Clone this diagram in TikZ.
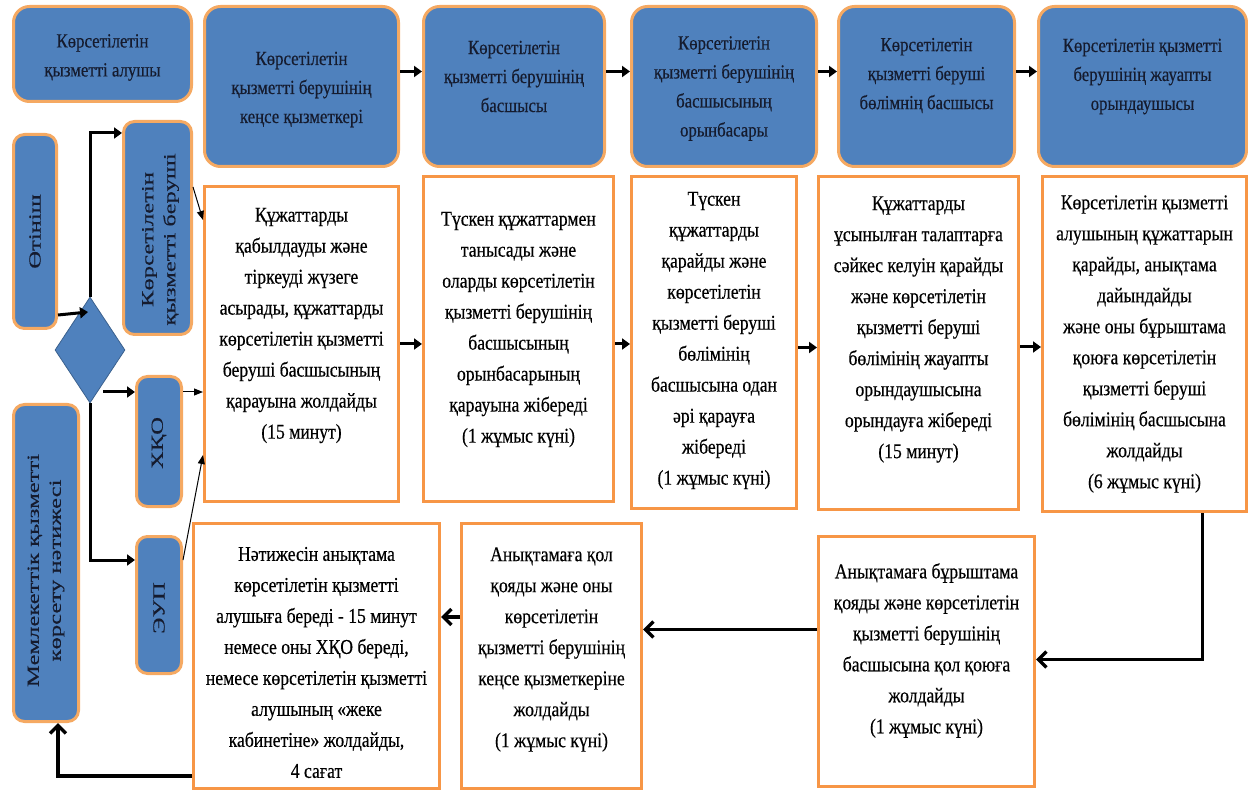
\documentclass[tikz,border=0pt]{standalone}
\usepackage{fontspec}
\setmainfont{Liberation Serif}[FakeStretch=0.84,FakeBold=0.35]
\newfontfamily\widefont{Liberation Serif}[FakeStretch=1.45,FakeBold=0.2]
\usetikzlibrary{arrows.meta,shapes.geometric,calc}
\definecolor{bluef}{HTML}{4F81BD}
\definecolor{orb}{HTML}{F79646}
\definecolor{orl}{HTML}{F5A962}
\definecolor{navy}{HTML}{151B2E}
\begin{document}
\begin{tikzpicture}[x=1pt,y=-1pt,
  bbox/.style={draw=orl, line width=3pt, fill=bluef, rounded corners=16pt, inner sep=0pt, anchor=north west},
  vbox/.style={bbox, rounded corners=11pt},
  pbox/.style={draw=orb, line width=3pt, fill=white, inner sep=0pt, anchor=north west},
  btxt/.style={align=center, text=navy, font=\fontsize{20}{29}\selectfont, inner sep=0pt},
  ptxt/.style={align=center, text=black, font=\fontsize{21}{31}\selectfont, inner sep=0pt},
  vtxt/.style={align=center, text=navy, rotate=90, font=\widefont\fontsize{17}{22}\selectfont, inner sep=0pt},
  tri/.style={line width=3pt, -{Triangle[length=8pt,width=11pt]}},
  thinarr/.style={line width=1pt, -{Triangle[length=9pt,width=7pt]}},
  big/.style={line width=3.5pt, -{Straight Barb[length=8pt,width=16pt]}}
]
\useasboundingbox (0,0) rectangle (1248,791);

% top row boxes
\node[bbox, minimum width=178pt, minimum height=95pt] (a) at (12,5) {};
\node[bbox, minimum width=194pt, minimum height=160pt] (b1) at (203,5) {};
\node[bbox, minimum width=181pt, minimum height=160pt] (b2) at (422,5) {};
\node[bbox, minimum width=185pt, minimum height=160pt] (b3) at (630,5) {};
\node[bbox, minimum width=176pt, minimum height=160pt] (b4) at (837,5) {};
\node[bbox, minimum width=208pt, minimum height=160pt] (b5) at (1037,5) {};

\node[btxt] (at) at ($(a.center)+(0,3.5)$) {Көрсетілетін\\қызметті алушы};
\node[btxt] (b1t) at ($(b1.center)+(0,3)$) {Көрсетілетін\\қызметті берушінің\\кеңсе қызметкері};
\node[btxt] (b2t) at ($(b2.center)+(0,-10)$) {Көрсетілетін\\қызметті берушінің\\басшысы};
\node[btxt] (b3t) at ($(b3.center)+(0,2)$) {Көрсетілетін\\қызметті берушінің\\басшысының\\орынбасары};
\node[btxt] (b4t) at ($(b4.center)+(0,-11)$) {Көрсетілетін\\қызметті беруші\\бөлімнің басшысы};
\node[btxt] (b5t) at ($(b5.center)+(0,-10)$) {Көрсетілетін қызметті\\берушінің жауапты\\орындаушысы};

% left column
\node[vbox, minimum width=43pt, minimum height=194pt] (otin) at (12,133) {};
\node[vbox, minimum width=68pt, minimum height=213pt] (kb) at (122,120) {};
\node[vbox, minimum width=45pt, minimum height=130pt] (xqo) at (135,375) {};
\node[vbox, minimum width=45pt, minimum height=137pt] (eup) at (135,535) {};
\node[vbox, minimum width=65pt, minimum height=317pt] (mem) at (12,403) {};
\node[diamond, fill=bluef, draw=bluef!75!black, line width=0.8pt, minimum width=70pt, minimum height=106pt, inner sep=0pt, shape aspect=0.66] (dia) at (90,350) {};

\node[vtxt] (otint) at (otin.center) {Өтініш};
\node[vtxt] (kbt) at ($(kb.center)+(3,11.5)$) {Көрсетілетін\\қызметті беруші};
\node[vtxt] (xqot) at ($(xqo.center)+(0,1.5)$) {ХҚО};
\node[vtxt] (eupt) at ($(eup.center)+(0,3)$) {ЭУП};
\node[vtxt] (memt) at ($(mem.center)+(0,7.5)$) {Мемлекеттік қызметті\\көрсету нәтижесі};

% process boxes
\node[pbox, minimum width=194pt, minimum height=315pt] (p1) at (203,185) {};
\node[pbox, minimum width=190pt, minimum height=325pt] (p2) at (422,175) {};
\node[pbox, minimum width=165pt, minimum height=332pt] (p3) at (630,175) {};
\node[pbox, minimum width=200pt, minimum height=333pt] (p4) at (817,175) {};
\node[pbox, minimum width=204pt, minimum height=335pt] (p5) at (1041,175) {};
\node[pbox, minimum width=246pt, minimum height=265pt] (r1) at (192,522) {};
\node[pbox, minimum width=180pt, minimum height=265pt] (r2) at (460,522) {};
\node[pbox, minimum width=216pt, minimum height=250pt] (r3) at (817,535) {};

\node[ptxt] (p1t) at ($(p1.center)+(0,-18.5)$) {Құжаттарды\\қабылдауды және\\тіркеуді жүзеге\\асырады, құжаттарды\\көрсетілетін қызметті\\беруші басшысының\\қарауына жолдайды\\(15 минут)};
\node[ptxt] (p2t) at ($(p2.center)+(0,-9.5)$) {Түскен құжаттармен\\танысады және\\оларды көрсетілетін\\қызметті берушінің\\басшысының\\орынбасарының\\қарауына жібереді\\(1 жұмыс күні)};
\node[ptxt] (p3t) at ($(p3.center)+(0,-2)$) {Түскен\\құжаттарды\\қарайды және\\көрсетілетін\\қызметті беруші\\бөлімінің\\басшысына одан\\әрі қарауға\\жібереді\\(1 жұмыс күні)};
\node[ptxt] (p4t) at ($(p4.center)+(0,-13.5)$) {Құжаттарды\\ұсынылған талаптарға\\сәйкес келуін қарайды\\және көрсетілетін\\қызметті беруші\\бөлімінің жауапты\\орындаушысына\\орындауға жібереді\\(15 минут)};
\node[ptxt] (p5t) at (p5.center) {Көрсетілетін қызметті\\алушының құжаттарын\\қарайды, анықтама\\дайындайды\\және оны бұрыштама\\қоюға көрсетілетін\\қызметті беруші\\бөлімінің басшысына\\жолдайды\\(6 жұмыс күні)};
\node[ptxt] (r1t) at ($(r1.center)+(0,6.5)$) {Нәтижесін анықтама\\көрсетілетін қызметті\\алушыға береді - 15 минут\\немесе оны ХҚО береді,\\немесе көрсетілетін қызметті\\алушының «жеке\\кабинетіне» жолдайды,\\4 сағат};
\node[ptxt] (r2t) at ($(r2.center)+(0,-6.5)$) {Анықтамаға қол\\қояды және оны\\көрсетілетін\\қызметті берушінің\\кеңсе қызметкеріне\\жолдайды\\(1 жұмыс күні)};
\node[ptxt] (r3t) at ($(r3.center)+(0,-11)$) {Анықтамаға бұрыштама\\қояды және көрсетілетін\\қызметті берушінің\\басшысына қол қоюға\\жолдайды\\(1 жұмыс күні)};

% top arrows
\coordinate (t1) at ([yshift=15pt]b1.east);
\coordinate (t2) at ([yshift=15pt]b2.east);
\coordinate (t3) at ([yshift=15pt]b3.east);
\coordinate (t4) at ([yshift=15pt]b4.east);
\draw[tri] (t1) -- (t1 -| b2.west);
\draw[tri] (t2) -- (t2 -| b3.west);
\draw[tri] (t3) -- (t3 -| b4.west);
\draw[tri] (t4) -- (t4 -| b5.west);

% process arrows
\draw[tri] (p1.east) -- (p1.east -| p2.west);
\coordinate (q2) at ([yshift=-5pt]p2.east);
\draw[tri] (q2) -- (q2 -| p3.west);
\coordinate (q3) at ([yshift=-5pt]p3.east);
\draw[tri] (q3) -- (q3 -| p4.west);
\coordinate (q4) at ([yshift=-4pt]p4.east);
\draw[tri] (q4) -- (q4 -| p5.west);

% left connectors
\coordinate (jtop) at (88,312);
\draw[tri] ([yshift=15pt]otin.south east) -- (jtop);
\draw[tri] (dia.north) |- ([yshift=-13pt]kb.north west);
\draw[tri] (dia.south) |- ([yshift=-25pt]eup.north west);
\draw[tri] ([xshift=-32pt,yshift=-17pt]xqo.north west) -- ([yshift=-17pt]xqo.north west);
\draw[thinarr] ([yshift=-67pt]kb.north east) -- ([yshift=-35pt]p1.north west);
\coordinate (xe) at ([yshift=-17pt]xqo.north east);
\draw[thinarr] (xe) -- (xe -| p1.west);
\draw[thinarr] ([yshift=-25pt]eup.north east) -- ([yshift=48pt]p1.south west);

% bottom connectors
\coordinate (c1) at ([xshift=58pt]p5.south);
\draw[big] (c1) |- ([yshift=2pt]r3.east);
\coordinate (c2) at ([yshift=32pt]r3.west);
\draw[big] (c2) -- (c2 -| r2.east);
\coordinate (c3) at ([yshift=39pt]r2.west);
\draw[big] (c3) -- (c3 -| r1.east);
\coordinate (c4) at ([yshift=14pt]r1.south west);
\draw[big] (c4) -| ([xshift=12pt]mem.south);
\end{tikzpicture}
\end{document}
